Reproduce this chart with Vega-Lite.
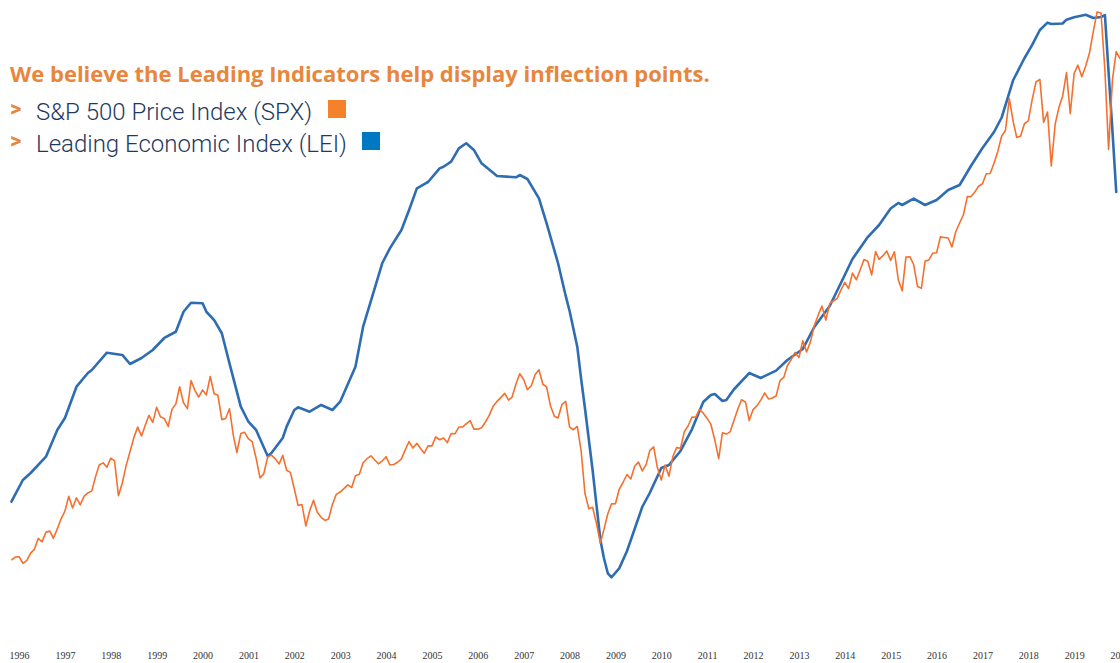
{
  "$schema": "https://vega.github.io/schema/vega-lite/v6.json",
  "width": 1120,
  "height": 645,
  "autosize": {"type": "none"},
  "padding": {"top": 0, "left": 0, "right": 0, "bottom": 18},
  "background": "white",
  "config": {"view": {"stroke": null}},
  "title": {
    "text": "We believe the Leading Indicators help display inflection points.",
    "subtitle": [">", ">"],
    "anchor": "start",
    "frame": "group",
    "orient": "top",
    "dx": 10,
    "offset": -153,
    "font": "Open Sans",
    "fontSize": 22,
    "fontWeight": "bold",
    "color": "#E8863C",
    "subtitleFont": "Roboto",
    "subtitleFontSize": 22,
    "subtitleFontWeight": "bold",
    "subtitleColor": "#E8863C",
    "subtitleLineHeight": 32,
    "subtitlePadding": 12
  },
  "datasets": {
    "lei": [
      {"date": "1996-04-01", "value": 73.33},
      {"date": "1996-07-01", "value": 75.35},
      {"date": "1996-09-01", "value": 76.0},
      {"date": "1997-01-01", "value": 77.52},
      {"date": "1997-04-01", "value": 80.0},
      {"date": "1997-06-01", "value": 81.12},
      {"date": "1997-09-01", "value": 84.03},
      {"date": "1997-12-01", "value": 85.3},
      {"date": "1998-01-01", "value": 85.58},
      {"date": "1998-05-01", "value": 87.19},
      {"date": "1998-09-01", "value": 86.98},
      {"date": "1998-11-01", "value": 86.14},
      {"date": "1999-02-01", "value": 86.7},
      {"date": "1999-05-01", "value": 87.44},
      {"date": "1999-08-01", "value": 88.56},
      {"date": "1999-11-01", "value": 89.14},
      {"date": "2000-01-01", "value": 91.0},
      {"date": "2000-03-01", "value": 91.84},
      {"date": "2000-06-01", "value": 91.79},
      {"date": "2000-07-01", "value": 91.0},
      {"date": "2000-09-01", "value": 90.23},
      {"date": "2000-11-01", "value": 89.0},
      {"date": "2001-01-01", "value": 86.2},
      {"date": "2001-04-01", "value": 82.17},
      {"date": "2001-06-01", "value": 80.77},
      {"date": "2001-08-01", "value": 80.0},
      {"date": "2001-11-01", "value": 77.58},
      {"date": "2001-12-01", "value": 77.86},
      {"date": "2002-03-01", "value": 79.26},
      {"date": "2002-04-01", "value": 80.31},
      {"date": "2002-06-01", "value": 81.86},
      {"date": "2002-07-01", "value": 82.11},
      {"date": "2002-10-01", "value": 81.7},
      {"date": "2003-01-01", "value": 82.33},
      {"date": "2003-04-01", "value": 81.86},
      {"date": "2003-06-01", "value": 82.63},
      {"date": "2003-10-01", "value": 85.89},
      {"date": "2003-12-01", "value": 89.61},
      {"date": "2004-03-01", "value": 93.12},
      {"date": "2004-05-01", "value": 95.51},
      {"date": "2004-07-01", "value": 96.9},
      {"date": "2004-10-01", "value": 98.6},
      {"date": "2004-12-01", "value": 100.47},
      {"date": "2005-02-01", "value": 102.48},
      {"date": "2005-04-01", "value": 102.88},
      {"date": "2005-05-01", "value": 103.07},
      {"date": "2005-08-01", "value": 104.34},
      {"date": "2005-09-01", "value": 104.49},
      {"date": "2005-11-01", "value": 104.96},
      {"date": "2006-01-01", "value": 106.2},
      {"date": "2006-03-01", "value": 106.67},
      {"date": "2006-05-01", "value": 106.05},
      {"date": "2006-07-01", "value": 104.81},
      {"date": "2006-11-01", "value": 103.63},
      {"date": "2007-04-01", "value": 103.51},
      {"date": "2007-05-01", "value": 103.72},
      {"date": "2007-07-01", "value": 103.35},
      {"date": "2007-10-01", "value": 101.55},
      {"date": "2007-12-01", "value": 99.23},
      {"date": "2008-03-01", "value": 95.51},
      {"date": "2008-05-01", "value": 92.47},
      {"date": "2008-06-01", "value": 91.07},
      {"date": "2008-08-01", "value": 87.75},
      {"date": "2008-09-01", "value": 84.74},
      {"date": "2008-10-01", "value": 82.05},
      {"date": "2008-12-01", "value": 76.28},
      {"date": "2009-01-01", "value": 73.02},
      {"date": "2009-02-01", "value": 69.77},
      {"date": "2009-03-01", "value": 68.09},
      {"date": "2009-04-01", "value": 66.67},
      {"date": "2009-05-01", "value": 66.3},
      {"date": "2009-07-01", "value": 67.13},
      {"date": "2009-09-01", "value": 68.74},
      {"date": "2010-01-01", "value": 72.86},
      {"date": "2010-03-01", "value": 74.14},
      {"date": "2010-06-01", "value": 76.47},
      {"date": "2010-08-01", "value": 76.74},
      {"date": "2010-11-01", "value": 78.05},
      {"date": "2011-02-01", "value": 80.09},
      {"date": "2011-05-01", "value": 82.6},
      {"date": "2011-07-01", "value": 83.26},
      {"date": "2011-08-01", "value": 83.35},
      {"date": "2011-10-01", "value": 82.7},
      {"date": "2011-11-01", "value": 82.79},
      {"date": "2012-01-01", "value": 83.79},
      {"date": "2012-05-01", "value": 85.3},
      {"date": "2012-08-01", "value": 84.84},
      {"date": "2012-12-01", "value": 85.52},
      {"date": "2013-03-01", "value": 86.51},
      {"date": "2013-07-01", "value": 87.53},
      {"date": "2013-10-01", "value": 89.58},
      {"date": "2014-02-01", "value": 91.53},
      {"date": "2014-05-01", "value": 93.67},
      {"date": "2014-08-01", "value": 95.91},
      {"date": "2014-12-01", "value": 97.95},
      {"date": "2015-03-01", "value": 99.07},
      {"date": "2015-06-01", "value": 100.6},
      {"date": "2015-08-01", "value": 101.12},
      {"date": "2015-09-01", "value": 100.93},
      {"date": "2015-12-01", "value": 101.53},
      {"date": "2016-03-01", "value": 100.93},
      {"date": "2016-06-01", "value": 101.4},
      {"date": "2016-09-01", "value": 102.33},
      {"date": "2016-12-01", "value": 102.79},
      {"date": "2017-03-01", "value": 104.56},
      {"date": "2017-06-01", "value": 106.23},
      {"date": "2017-09-01", "value": 107.72},
      {"date": "2017-11-01", "value": 109.07},
      {"date": "2018-02-01", "value": 112.56},
      {"date": "2018-05-01", "value": 114.58},
      {"date": "2018-07-01", "value": 115.81},
      {"date": "2018-09-01", "value": 117.21},
      {"date": "2018-11-01", "value": 117.89},
      {"date": "2018-12-01", "value": 117.77},
      {"date": "2019-03-01", "value": 117.81},
      {"date": "2019-04-01", "value": 118.17},
      {"date": "2019-06-01", "value": 118.39},
      {"date": "2019-09-01", "value": 118.63},
      {"date": "2019-11-01", "value": 118.33},
      {"date": "2020-01-01", "value": 118.42},
      {"date": "2020-02-01", "value": 118.6},
      {"date": "2020-03-01", "value": 113.3},
      {"date": "2020-04-01", "value": 107.81},
      {"date": "2020-05-01", "value": 102.14}
    ],
    "spx": [
      {"date": "1996-04-01", "value": 654.17}, {"date": "1996-05-01", "value": 669.12}, {"date": "1996-06-01", "value": 670.63},
      {"date": "1996-07-01", "value": 639.95}, {"date": "1996-08-01", "value": 651.99}, {"date": "1996-09-01", "value": 687.31},
      {"date": "1996-10-01", "value": 705.27}, {"date": "1996-11-01", "value": 757.02}, {"date": "1996-12-01", "value": 740.74},
      {"date": "1997-01-01", "value": 786.16}, {"date": "1997-02-01", "value": 790.82}, {"date": "1997-03-01", "value": 757.12},
      {"date": "1997-04-01", "value": 801.34}, {"date": "1997-05-01", "value": 848.28}, {"date": "1997-06-01", "value": 885.14},
      {"date": "1997-07-01", "value": 954.29}, {"date": "1997-08-01", "value": 899.47}, {"date": "1997-09-01", "value": 947.28},
      {"date": "1997-10-01", "value": 914.62}, {"date": "1997-11-01", "value": 955.4}, {"date": "1997-12-01", "value": 970.43},
      {"date": "1998-01-01", "value": 980.28}, {"date": "1998-02-01", "value": 1049.34}, {"date": "1998-03-01", "value": 1101.75},
      {"date": "1998-04-01", "value": 1111.75}, {"date": "1998-05-01", "value": 1090.82}, {"date": "1998-06-01", "value": 1133.84},
      {"date": "1998-07-01", "value": 1120.67}, {"date": "1998-08-01", "value": 957.28}, {"date": "1998-09-01", "value": 1017.01},
      {"date": "1998-10-01", "value": 1098.67}, {"date": "1998-11-01", "value": 1163.63}, {"date": "1998-12-01", "value": 1229.23},
      {"date": "1999-01-01", "value": 1279.64}, {"date": "1999-02-01", "value": 1238.33}, {"date": "1999-03-01", "value": 1286.37},
      {"date": "1999-04-01", "value": 1335.18}, {"date": "1999-05-01", "value": 1301.84}, {"date": "1999-06-01", "value": 1372.71},
      {"date": "1999-07-01", "value": 1328.72}, {"date": "1999-08-01", "value": 1320.41}, {"date": "1999-09-01", "value": 1282.71},
      {"date": "1999-10-01", "value": 1362.93}, {"date": "1999-11-01", "value": 1388.91}, {"date": "1999-12-01", "value": 1469.25},
      {"date": "2000-01-01", "value": 1394.46}, {"date": "2000-02-01", "value": 1366.42}, {"date": "2000-03-01", "value": 1498.58},
      {"date": "2000-04-01", "value": 1452.43}, {"date": "2000-05-01", "value": 1420.6}, {"date": "2000-06-01", "value": 1454.6},
      {"date": "2000-07-01", "value": 1430.83}, {"date": "2000-08-01", "value": 1517.68}, {"date": "2000-09-01", "value": 1436.51},
      {"date": "2000-10-01", "value": 1429.4}, {"date": "2000-11-01", "value": 1314.95}, {"date": "2000-12-01", "value": 1320.28},
      {"date": "2001-01-01", "value": 1366.01}, {"date": "2001-02-01", "value": 1239.94}, {"date": "2001-03-01", "value": 1160.33},
      {"date": "2001-04-01", "value": 1249.46}, {"date": "2001-05-01", "value": 1255.82}, {"date": "2001-06-01", "value": 1224.42},
      {"date": "2001-07-01", "value": 1211.23}, {"date": "2001-08-01", "value": 1133.58}, {"date": "2001-09-01", "value": 1040.94},
      {"date": "2001-10-01", "value": 1059.78}, {"date": "2001-11-01", "value": 1139.45}, {"date": "2001-12-01", "value": 1148.08},
      {"date": "2002-01-01", "value": 1130.2}, {"date": "2002-02-01", "value": 1106.73}, {"date": "2002-03-01", "value": 1147.39},
      {"date": "2002-04-01", "value": 1076.92}, {"date": "2002-05-01", "value": 1067.14}, {"date": "2002-06-01", "value": 989.82},
      {"date": "2002-07-01", "value": 911.62}, {"date": "2002-08-01", "value": 916.07}, {"date": "2002-09-01", "value": 815.28},
      {"date": "2002-10-01", "value": 885.76}, {"date": "2002-11-01", "value": 936.31}, {"date": "2002-12-01", "value": 879.82},
      {"date": "2003-01-01", "value": 855.7}, {"date": "2003-02-01", "value": 841.15}, {"date": "2003-03-01", "value": 848.18},
      {"date": "2003-04-01", "value": 916.92}, {"date": "2003-05-01", "value": 963.59}, {"date": "2003-06-01", "value": 974.5},
      {"date": "2003-07-01", "value": 990.31}, {"date": "2003-08-01", "value": 1008.01}, {"date": "2003-09-01", "value": 995.97},
      {"date": "2003-10-01", "value": 1050.71}, {"date": "2003-11-01", "value": 1058.2}, {"date": "2003-12-01", "value": 1111.92},
      {"date": "2004-01-01", "value": 1131.13}, {"date": "2004-02-01", "value": 1144.94}, {"date": "2004-03-01", "value": 1126.21},
      {"date": "2004-04-01", "value": 1107.3}, {"date": "2004-05-01", "value": 1120.68}, {"date": "2004-06-01", "value": 1140.84},
      {"date": "2004-07-01", "value": 1101.72}, {"date": "2004-08-01", "value": 1104.24}, {"date": "2004-09-01", "value": 1114.58},
      {"date": "2004-10-01", "value": 1130.2}, {"date": "2004-11-01", "value": 1173.82}, {"date": "2004-12-01", "value": 1211.92},
      {"date": "2005-01-01", "value": 1181.27}, {"date": "2005-02-01", "value": 1203.6}, {"date": "2005-03-01", "value": 1180.59},
      {"date": "2005-04-01", "value": 1156.85}, {"date": "2005-05-01", "value": 1191.5}, {"date": "2005-06-01", "value": 1191.33},
      {"date": "2005-07-01", "value": 1234.18}, {"date": "2005-08-01", "value": 1220.33}, {"date": "2005-09-01", "value": 1228.81},
      {"date": "2005-10-01", "value": 1207.01}, {"date": "2005-11-01", "value": 1249.48}, {"date": "2005-12-01", "value": 1248.29},
      {"date": "2006-01-01", "value": 1280.08}, {"date": "2006-02-01", "value": 1280.66}, {"date": "2006-03-01", "value": 1294.83},
      {"date": "2006-04-01", "value": 1310.61}, {"date": "2006-05-01", "value": 1270.09}, {"date": "2006-06-01", "value": 1270.2},
      {"date": "2006-07-01", "value": 1276.66}, {"date": "2006-08-01", "value": 1303.82}, {"date": "2006-09-01", "value": 1335.85},
      {"date": "2006-10-01", "value": 1377.94}, {"date": "2006-11-01", "value": 1400.63}, {"date": "2006-12-01", "value": 1418.3},
      {"date": "2007-01-01", "value": 1438.24}, {"date": "2007-02-01", "value": 1406.82}, {"date": "2007-03-01", "value": 1420.86},
      {"date": "2007-04-01", "value": 1482.37}, {"date": "2007-05-01", "value": 1530.62}, {"date": "2007-06-01", "value": 1503.35},
      {"date": "2007-07-01", "value": 1455.27}, {"date": "2007-08-01", "value": 1473.99}, {"date": "2007-09-01", "value": 1526.75},
      {"date": "2007-10-01", "value": 1549.38}, {"date": "2007-11-01", "value": 1481.14}, {"date": "2007-12-01", "value": 1468.36},
      {"date": "2008-01-01", "value": 1378.55}, {"date": "2008-02-01", "value": 1330.63}, {"date": "2008-03-01", "value": 1322.7},
      {"date": "2008-04-01", "value": 1385.59}, {"date": "2008-05-01", "value": 1400.38}, {"date": "2008-06-01", "value": 1280.0},
      {"date": "2008-07-01", "value": 1267.38}, {"date": "2008-08-01", "value": 1282.83}, {"date": "2008-09-01", "value": 1166.36},
      {"date": "2008-10-01", "value": 968.75}, {"date": "2008-11-01", "value": 896.24}, {"date": "2008-12-01", "value": 903.25},
      {"date": "2009-01-01", "value": 825.88}, {"date": "2009-02-01", "value": 735.09}, {"date": "2009-03-01", "value": 797.87},
      {"date": "2009-04-01", "value": 872.81}, {"date": "2009-05-01", "value": 919.14}, {"date": "2009-06-01", "value": 919.32},
      {"date": "2009-07-01", "value": 987.48}, {"date": "2009-08-01", "value": 1020.62}, {"date": "2009-09-01", "value": 1057.08},
      {"date": "2009-10-01", "value": 1036.19}, {"date": "2009-11-01", "value": 1095.63}, {"date": "2009-12-01", "value": 1115.1},
      {"date": "2010-01-01", "value": 1073.87}, {"date": "2010-02-01", "value": 1104.49}, {"date": "2010-03-01", "value": 1169.43},
      {"date": "2010-04-01", "value": 1186.69}, {"date": "2010-05-01", "value": 1089.41}, {"date": "2010-06-01", "value": 1030.71},
      {"date": "2010-07-01", "value": 1101.6}, {"date": "2010-08-01", "value": 1049.33}, {"date": "2010-09-01", "value": 1141.2},
      {"date": "2010-10-01", "value": 1183.26}, {"date": "2010-11-01", "value": 1180.55}, {"date": "2010-12-01", "value": 1257.64},
      {"date": "2011-01-01", "value": 1286.12}, {"date": "2011-02-01", "value": 1327.22}, {"date": "2011-03-01", "value": 1325.83},
      {"date": "2011-04-01", "value": 1363.61}, {"date": "2011-05-01", "value": 1345.2}, {"date": "2011-06-01", "value": 1320.64},
      {"date": "2011-07-01", "value": 1292.28}, {"date": "2011-08-01", "value": 1218.89}, {"date": "2011-09-01", "value": 1131.42},
      {"date": "2011-10-01", "value": 1253.3}, {"date": "2011-11-01", "value": 1246.96}, {"date": "2011-12-01", "value": 1257.6},
      {"date": "2012-01-01", "value": 1312.41}, {"date": "2012-02-01", "value": 1365.68}, {"date": "2012-03-01", "value": 1408.47},
      {"date": "2012-04-01", "value": 1397.91}, {"date": "2012-05-01", "value": 1310.33}, {"date": "2012-06-01", "value": 1362.16},
      {"date": "2012-07-01", "value": 1379.32}, {"date": "2012-08-01", "value": 1406.58}, {"date": "2012-09-01", "value": 1440.67},
      {"date": "2012-10-01", "value": 1412.16}, {"date": "2012-11-01", "value": 1416.18}, {"date": "2012-12-01", "value": 1426.19},
      {"date": "2013-01-01", "value": 1498.11}, {"date": "2013-02-01", "value": 1514.68}, {"date": "2013-03-01", "value": 1569.19},
      {"date": "2013-04-01", "value": 1597.57}, {"date": "2013-05-01", "value": 1630.74}, {"date": "2013-06-01", "value": 1606.28},
      {"date": "2013-07-01", "value": 1685.73}, {"date": "2013-08-01", "value": 1632.97}, {"date": "2013-09-01", "value": 1681.55},
      {"date": "2013-10-01", "value": 1756.54}, {"date": "2013-11-01", "value": 1805.81}, {"date": "2013-12-01", "value": 1848.36},
      {"date": "2014-01-01", "value": 1782.59}, {"date": "2014-02-01", "value": 1859.45}, {"date": "2014-03-01", "value": 1872.34},
      {"date": "2014-04-01", "value": 1883.95}, {"date": "2014-05-01", "value": 1923.57}, {"date": "2014-06-01", "value": 1960.23},
      {"date": "2014-07-01", "value": 1930.67}, {"date": "2014-08-01", "value": 2003.37}, {"date": "2014-09-01", "value": 1972.29},
      {"date": "2014-10-01", "value": 2018.05}, {"date": "2014-11-01", "value": 2067.56}, {"date": "2014-12-01", "value": 2058.9},
      {"date": "2015-01-01", "value": 1994.99}, {"date": "2015-02-01", "value": 2104.5}, {"date": "2015-03-01", "value": 2067.89},
      {"date": "2015-04-01", "value": 2085.51}, {"date": "2015-05-01", "value": 2107.39}, {"date": "2015-06-01", "value": 2063.11},
      {"date": "2015-07-01", "value": 2103.84}, {"date": "2015-08-01", "value": 1972.18}, {"date": "2015-09-01", "value": 1920.03},
      {"date": "2015-10-01", "value": 2079.36}, {"date": "2015-11-01", "value": 2080.41}, {"date": "2015-12-01", "value": 2043.94},
      {"date": "2016-01-01", "value": 1940.24}, {"date": "2016-02-01", "value": 1932.23}, {"date": "2016-03-01", "value": 2059.74},
      {"date": "2016-04-01", "value": 2065.3}, {"date": "2016-05-01", "value": 2096.95}, {"date": "2016-06-01", "value": 2098.86},
      {"date": "2016-07-01", "value": 2173.6}, {"date": "2016-08-01", "value": 2170.95}, {"date": "2016-09-01", "value": 2168.27},
      {"date": "2016-10-01", "value": 2126.15}, {"date": "2016-11-01", "value": 2198.81}, {"date": "2016-12-01", "value": 2238.83},
      {"date": "2017-01-01", "value": 2278.87}, {"date": "2017-02-01", "value": 2363.64}, {"date": "2017-03-01", "value": 2362.72},
      {"date": "2017-04-01", "value": 2384.2}, {"date": "2017-05-01", "value": 2411.8}, {"date": "2017-06-01", "value": 2423.41},
      {"date": "2017-07-01", "value": 2470.3}, {"date": "2017-08-01", "value": 2471.65}, {"date": "2017-09-01", "value": 2519.36},
      {"date": "2017-10-01", "value": 2575.26}, {"date": "2017-11-01", "value": 2647.58}, {"date": "2017-12-01", "value": 2673.61},
      {"date": "2018-01-01", "value": 2823.81}, {"date": "2018-02-01", "value": 2713.83}, {"date": "2018-03-01", "value": 2640.87},
      {"date": "2018-04-01", "value": 2648.05}, {"date": "2018-05-01", "value": 2705.27}, {"date": "2018-06-01", "value": 2718.37},
      {"date": "2018-07-01", "value": 2816.29}, {"date": "2018-08-01", "value": 2901.52}, {"date": "2018-09-01", "value": 2913.98},
      {"date": "2018-10-01", "value": 2711.74}, {"date": "2018-11-01", "value": 2760.17}, {"date": "2018-12-01", "value": 2506.85},
      {"date": "2019-01-01", "value": 2704.1}, {"date": "2019-02-01", "value": 2784.49}, {"date": "2019-03-01", "value": 2834.4},
      {"date": "2019-04-01", "value": 2945.83}, {"date": "2019-05-01", "value": 2752.06}, {"date": "2019-06-01", "value": 2941.76},
      {"date": "2019-07-01", "value": 2980.38}, {"date": "2019-08-01", "value": 2926.46}, {"date": "2019-09-01", "value": 2976.74},
      {"date": "2019-10-01", "value": 3037.56}, {"date": "2019-11-01", "value": 3140.98}, {"date": "2019-12-01", "value": 3230.78},
      {"date": "2020-01-01", "value": 3225.52}, {"date": "2020-02-01", "value": 2954.22}, {"date": "2020-03-01", "value": 2584.59},
      {"date": "2020-04-01", "value": 2912.43}, {"date": "2020-05-01", "value": 3044.31}, {"date": "2020-06-01", "value": 3010}
    ]
  },
  "layer": [
    {
      "data": {"name": "lei"},
      "mark": {"type": "line", "strokeWidth": 2.6, "strokeJoin": "round", "strokeCap": "round"},
      "encoding": {
        "x": {
          "field": "date", "type": "temporal",
          "scale": {"type": "utc", "nice": false, "domain": [{"year": 1996, "month": 1, "date": 1, "utc": true}, {"year": 2020, "month": 5, "date": 31, "utc": true}]},
          "axis": {"title": null, "domain": false, "ticks": false, "grid": false, "format": "%Y", "tickCount": {"interval": "year", "step": 1},
                   "labelFont": "Liberation Serif", "labelFontSize": 10, "labelColor": "#333333", "labelPadding": 5, "labelOffset": 19,
                   "labelFlush": false, "labelOverlap": false, "labelBound": false}
        },
        "y": {"field": "value", "type": "quantitative", "scale": {"domain": [60, 120], "zero": false, "nice": false}, "axis": null},
        "color": {
          "datum": "Leading Economic Index (LEI)", "type": "nominal",
          "scale": {"range": ["#2F6DB3"]},
          "legend": {
            "orient": "none", "legendX": 36, "legendY": 132, "padding": 0,
            "title": "Leading Economic Index (LEI)", "titleOrient": "left", "titleFont": "Roboto", "titleFontSize": 24, "titleFontWeight": 300,
            "titleColor": "#1F3A60", "titleLimit": 500, "titlePadding": 15, "titleBaseline": "top",
            "symbolType": "square", "symbolSize": 324, "symbolStrokeWidth": 0, "labelExpr": "''",
            "encode": {
              "symbols": {"update": {"fill": {"value": "#0079C2"}, "stroke": {"value": "#0079C2"}, "opacity": {"value": 1}}},
              "title": {"update": {"dy": {"value": -8}}}
            }
          }
        }
      }
    },
    {
      "data": {"name": "spx"},
      "mark": {"type": "line", "strokeWidth": 1.6, "strokeJoin": "round"},
      "encoding": {
        "x": {
          "field": "date", "type": "temporal",
          "scale": {"type": "utc", "nice": false, "domain": [{"year": 1996, "month": 1, "date": 1, "utc": true}, {"year": 2020, "month": 5, "date": 31, "utc": true}]},
          "axis": {"title": null, "domain": false, "ticks": false, "grid": false, "format": "%Y", "tickCount": {"interval": "year", "step": 1},
                   "labelFont": "Liberation Serif", "labelFontSize": 10, "labelColor": "#333333", "labelPadding": 5, "labelOffset": 19,
                   "labelFlush": false, "labelOverlap": false, "labelBound": false}
        },
        "y": {"field": "value", "type": "quantitative", "scale": {"domain": [255.8, 3286.8], "zero": false, "nice": false}, "axis": null},
        "color": {
          "datum": "S&P 500 Price Index (SPX)", "type": "nominal",
          "scale": {"range": ["#F4702F"]},
          "legend": {
            "orient": "none", "legendX": 36, "legendY": 100, "padding": 0,
            "title": "S&P 500 Price Index (SPX)", "titleOrient": "left", "titleFont": "Roboto", "titleFontSize": 24, "titleFontWeight": 300,
            "titleColor": "#1F3A60", "titleLimit": 500, "titlePadding": 16, "titleBaseline": "top",
            "symbolType": "square", "symbolSize": 324, "symbolStrokeWidth": 0, "labelExpr": "''",
            "encode": {
              "symbols": {"update": {"fill": {"value": "#F5822A"}, "stroke": {"value": "#F5822A"}, "opacity": {"value": 1}}},
              "title": {"update": {"dy": {"value": -8}}}
            }
          }
        }
      }
    }
  ],
  "resolve": {"scale": {"y": "independent", "color": "independent"}}
}
